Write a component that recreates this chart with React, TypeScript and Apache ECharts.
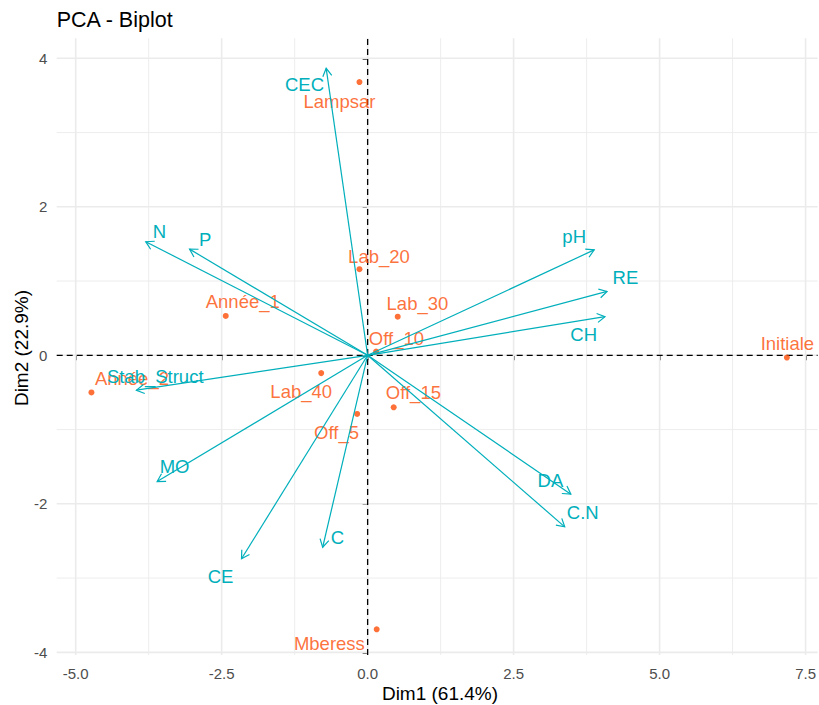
import React, { useEffect, useRef } from "react";
import * as echarts from "echarts";

// ---- Data ----
const indNames = ["Lampsar", "Lab_20", "Lab_30", "Année_1", "Off_10", "Initiale", "Année_2", "Lab_40", "Off_15", "Off_5", "Mberess"];
const indX = [-0.14, -0.14, 0.515, -2.43, 0.145, 7.18, -4.73, -0.795, 0.446, -0.18, 0.155];
const indY = [3.68, 1.16, 0.52, 0.53, 0.05, -0.03, -0.5, -0.24, -0.7, -0.79, -3.69];

const varNames = ["CEC", "N", "P", "Stab_Struct", "pH", "RE", "CH", "MO", "CE", "C", "DA", "C.N"];
const varX = [-0.71, -3.8, -3.05, -3.96, 3.88, 4.1, 4.065, -3.605, -2.16, -0.77, 3.48, 3.375];
const varY = [3.865, 1.53, 1.43, -0.47, 1.42, 0.86, 0.52, -1.7, -2.74, -2.585, -1.87, -2.31];

const xTicks = [-5, -2.5, 0, 2.5, 5, 7.5];
const xMinor = [-3.75, -1.25, 1.25, 3.75, 6.25];
const yTicks = [-4, -2, 0, 2, 4];
const yMinor = [-3, -1, 1, 3];

// ---- Label placement (pixel offsets, repel-like) ----
const indDx = [-20, 19.5, 19.7, 17, 20.3, 0.5, 40.5, -20, 19.7, -20.6, -47.3];
const indDy = [19, -12.3, -13.4, -14, -13.4, -14, -14.4, 18, -14.3, 18.6, 14.3];
const varDx = [-21.7, 13.8, 15.7, 18.8, -20, 18.4, -21.3, 17.4, -21, 14.7, -20.4, 18];
const varDy = [16.7, -10, -9.3, -14, -13.3, -14.4, 18.3, -15, 17.7, -10, -14, -14];

const X_MIN = -5.325, X_MAX = 7.706, Y_MIN = -4.036, Y_MAX = 4.269;
const IND_COLOR = "#FC4E07";
const VAR_COLOR = "#00AFBB";
const FONT = "Liberation Sans, Arial, sans-serif";

export default function App() {
  const ref = useRef<HTMLDivElement>(null);
  useEffect(() => {
    document.body.style.margin = "0";
    if (!ref.current) return;
    const chart = echarts.init(ref.current, null, { renderer: "svg" });

    // grid line items: [orientation 0=vertical 1=horizontal 2=dashed-v 3=dashed-h, value, major]
    const gridData: number[][] = [];
    xMinor.forEach((v) => gridData.push([0, v, 0]));
    yMinor.forEach((v) => gridData.push([1, v, 0]));
    xTicks.forEach((v) => gridData.push([0, v, 1]));
    yTicks.forEach((v) => gridData.push([1, v, 1]));
    gridData.push([3, 0, 1]);
    gridData.push([2, 0, 1]);

    const option: any = {
      animation: false,
      backgroundColor: "#FFFFFF",
      grid: { left: 56.7, right: 0, top: 38.3, bottom: 50 },
      xAxis: {
        type: "value",
        min: X_MIN,
        max: X_MAX,
        axisLine: { show: false },
        splitLine: { show: false },
        axisTick: { show: true, customValues: xTicks, length: 5, lineStyle: { color: "#333333", width: 1.6 } },
        axisLabel: {
          customValues: xTicks,
          formatter: (v: number) => v.toFixed(1),
          color: "#4D4D4D",
          fontSize: 15,
          fontFamily: FONT,
          margin: 11,
        },
      },
      yAxis: {
        type: "value",
        min: Y_MIN,
        max: Y_MAX,
        axisLine: { show: false },
        splitLine: { show: false },
        axisTick: { show: true, customValues: yTicks, length: 5, lineStyle: { color: "#333333", width: 1.6 } },
        axisLabel: {
          customValues: yTicks,
          formatter: (v: number) => String(v),
          color: "#4D4D4D",
          fontSize: 15,
          fontFamily: FONT,
          margin: 9.4,
        },
      },
      graphic: [
        {
          type: "text",
          x: 56.7,
          y: 19.5,
          style: { text: "PCA - Biplot", fontSize: 21.5, fill: "#000000", fontFamily: FONT, verticalAlign: "middle", align: "left" },
        },
        {
          type: "text",
          x: 440,
          y: 693,
          style: { text: "Dim1 (61.4%)", fontSize: 19, fill: "#000000", fontFamily: FONT, verticalAlign: "middle", align: "center" },
        },
        {
          type: "text",
          x: 21,
          y: 348,
          rotation: Math.PI / 2,
          style: { text: "Dim2 (22.9%)", fontSize: 19, fill: "#000000", fontFamily: FONT, verticalAlign: "middle", align: "center" },
        },
      ],
      series: [
        {
          type: "custom",
          silent: true,
          z: 1,
          data: gridData,
          renderItem: (params: any, api: any) => {
            const o = api.value(0);
            const v = api.value(1);
            const major = api.value(2);
            let p1, p2;
            if (o === 0 || o === 2) {
              p1 = api.coord([v, Y_MIN]);
              p2 = api.coord([v, Y_MAX]);
            } else {
              p1 = api.coord([X_MIN, v]);
              p2 = api.coord([X_MAX, v]);
            }
            const dashed = o >= 2;
            return {
              type: "line",
              shape: { x1: p1[0], y1: p1[1], x2: p2[0], y2: p2[1] },
              style: dashed
                ? { stroke: "#000000", lineWidth: 1.3, lineDash: [6, 4] }
                : { stroke: "#EBEBEB", lineWidth: major ? 1.6 : 0.9 },
            };
          },
        },
        {
          type: "scatter",
          z: 3,
          symbolSize: 6,
          itemStyle: { color: IND_COLOR },
          data: indX.map((x, i) => ({
            name: indNames[i],
            value: [x, indY[i]],
            label: { offset: [indDx[i], indDy[i]] },
          })),
          label: {
            show: true,
            position: "inside",
            formatter: "{b}",
            color: IND_COLOR,
            fontSize: 18.5,
            fontFamily: FONT,
          },
        },
        {
          type: "custom",
          z: 4,
          data: varX.map((x, i) => [x, varY[i]]),
          renderItem: (params: any, api: any) => {
            const i = params.dataIndex;
            const o = api.coord([0, 0]);
            const t = api.coord([api.value(0), api.value(1)]);
            const ang = Math.atan2(t[1] - o[1], t[0] - o[0]);
            const L = 9;
            const a = Math.PI / 6;
            const p1 = [t[0] - L * Math.cos(ang - a), t[1] - L * Math.sin(ang - a)];
            const p2 = [t[0] - L * Math.cos(ang + a), t[1] - L * Math.sin(ang + a)];
            return {
              type: "group",
              children: [
                {
                  type: "line",
                  shape: { x1: o[0], y1: o[1], x2: t[0], y2: t[1] },
                  style: { stroke: VAR_COLOR, lineWidth: 1.2 },
                },
                {
                  type: "polyline",
                  shape: { points: [p1, t, p2] },
                  style: { stroke: VAR_COLOR, fill: "none", lineWidth: 1.2 },
                },
                {
                  type: "text",
                  x: t[0] + varDx[i],
                  y: t[1] + varDy[i],
                  style: {
                    text: varNames[i],
                    fill: VAR_COLOR,
                    fontSize: 18.5,
                    fontFamily: FONT,
                    align: "center",
                    verticalAlign: "middle",
                  },
                },
              ],
            };
          },
        },
      ],
    };
    chart.setOption(option);
    return () => chart.dispose();
  }, []);
  return <div ref={ref} style={{ width: 819, height: 705 }} />;
}
